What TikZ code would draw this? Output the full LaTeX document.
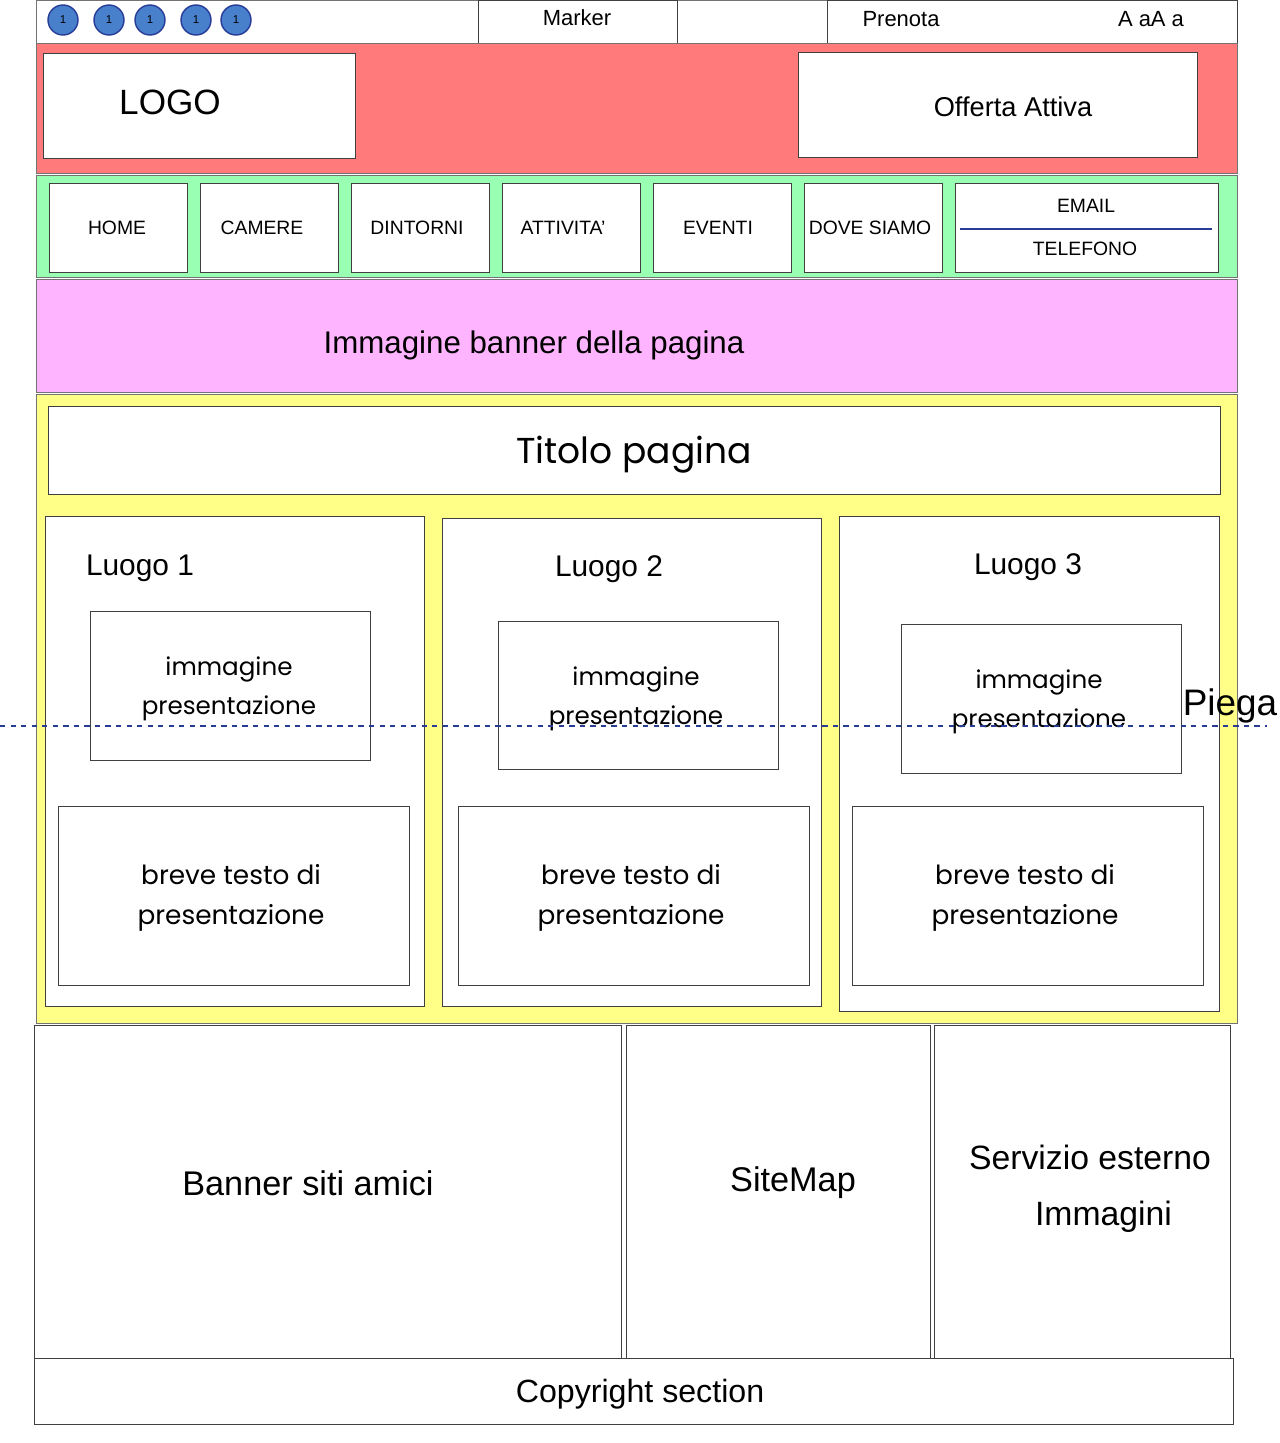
\documentclass[tikz,border=0pt]{standalone}
\usepackage{fontspec}
\setmainfont{Liberation Sans}
\newfontfamily\handfont{Poppins}
\usetikzlibrary{fit}

\definecolor{headred}{RGB}{255,122,122}
\definecolor{navgreen}{RGB}{153,255,178}
\definecolor{bannerpink}{RGB}{255,180,255}
\definecolor{bodyyellow}{RGB}{255,255,136}
\definecolor{dotblue}{RGB}{72,128,204}
\definecolor{foldblue}{RGB}{40,60,150}

\begin{document}
\begin{tikzpicture}[x=0.02cm, y=-0.02cm,
  box/.style = {draw=black!75, fill=white, inner sep=0pt, outer sep=0pt},
  band/.style = {draw=black!55, fill=#1, inner sep=0pt, outer sep=0pt},
  dot/.style = {circle, draw=foldblue, fill=dotblue, thick, minimum size=0.6cm, inner sep=0pt, font=\fontsize{6.5}{7}\selectfont},
  navtxt/.style = {font=\fontsize{11}{13}\selectfont},
  hand/.style = {font=\handfont\fontsize{#1}{22.5}\selectfont, align=center},
  hand/.default = 14]

\useasboundingbox (0,0) rectangle (1279,1443);

% Top bar
\node[band=white, fit={(36,0) (1237,43)}] (topbar) {};
\node[dot] (c1) at (63,20) {1};
\node[dot] (c2) at (109,20) {1};
\node[dot] (c3) at (150,20) {1};
\node[dot] (c4) at (196,20) {1};
\node[dot] (c5) at (236,20) {1};
\node[box, fit={(478,0) (677,43)}] (marker) {};
\node[font=\fontsize{12.5}{14}\selectfont] (markertxt) at (577,18) {Marker};
\node[box, fit={(827,0) (1237,43)}] (prenota) {};
\node[font=\fontsize{12.5}{14}\selectfont] (prenotatxt) at (901,19) {Prenota};
\node[font=\fontsize{12.5}{14}\selectfont] (sizetxt) at (1151,19) {A aA a};

% Header
\node[band=headred, fit={(36,43) (1237,173)}] (header) {};
\node[box, fit={(43,53) (355,158)}] (logo) {};
\node[font=\fontsize{20}{22}\selectfont] (logotxt) at (170,102) {LOGO};
\node[box, fit={(798,52) (1197,157)}] (offerta) {};
\node[font=\fontsize{15.5}{18}\selectfont] (offertatxt) at (1013,107) {Offerta Attiva};

% Menu
\node[band=navgreen, fit={(36,175) (1237,277)}] (menu) {};
\foreach \name/\lbl/\tx [count=\i from 0] in {home/HOME/117, camere/CAMERE/262, dintorni/DINTORNI/417, attivita/ATTIVITA'/563, eventi/EVENTI/718, dove/DOVE SIAMO/870} {
  \node[box, fit={({49+151*\i},183) ({187+151*\i},272)}] (\name) {};
  \node[navtxt] (\name txt) at (\tx,228) {\lbl};
}
\node[box, fit={(955,183) (1218,272)}] (contatti) {};
\node[navtxt] (emailtxt) at (1086,206) {EMAIL};
\node[navtxt] (telefonotxt) at (1085,249) {TELEFONO};
\coordinate (sepl) at (960,229);
\coordinate (sepr) at (1212,229);
\draw[foldblue, thick] (sepl) -- (sepr);

% Banner
\node[band=bannerpink, fit={(36,279) (1237,392)}] (banner) {};
\node[font=\fontsize{17.8}{20}\selectfont] (bannertxt) at (534,345) {Immagine banner della pagina};

% Content
\node[band=bodyyellow, fit={(36,394) (1237,1023)}] (content) {};
\node[box, fit={(48,406) (1220,494)}] (titolo) {};
\node[hand=20.5] (titolotxt) at (634,455) {Titolo pagina};

\node[box, fit={(45,516) (424,1006)}] (luogo1) {};
\node[font=\fontsize{17}{19}\selectfont] (luogo1txt) at (140,568) {Luogo 1};
\node[box, fit={(90,611) (370,760)}] (img1) {};
\node[hand] (img1txt) at (229,689) {immagine\\presentazione};
\node[box, fit={(58,806) (409,985)}] (testo1) {};
\node[hand=15] (testo1txt) at (231,898) {breve testo di\\presentazione};

\node[box, fit={(442,518) (821,1006)}] (luogo2) {};
\node[font=\fontsize{17}{19}\selectfont] (luogo2txt) at (609,569) {Luogo 2};
\node[box, fit={(498,621) (778,769)}] (img2) {};
\node[hand] (img2txt) at (636,699) {immagine\\presentazione};
\node[box, fit={(458,806) (809,985)}] (testo2) {};
\node[hand=15] (testo2txt) at (631,898) {breve testo di\\presentazione};

\node[box, fit={(839,516) (1219,1011)}] (luogo3) {};
\node[font=\fontsize{17}{19}\selectfont] (luogo3txt) at (1028,567) {Luogo 3};
\node[box, fit={(901,624) (1181,773)}] (img3) {};
\node[hand] (img3txt) at (1039,702) {immagine\\presentazione};
\node[box, fit={(852,806) (1203,985)}] (testo3) {};
\node[hand=15] (testo3txt) at (1025,898) {breve testo di\\presentazione};

% Fold line
\coordinate (foldl) at (0,726);
\coordinate (foldr) at (1267,726);
\draw[foldblue, dashed, thick] (foldl) -- (foldr);
\node[font=\fontsize{21}{23}\selectfont] (piega) at (1230,706) {Piega};

% Footer
\node[box, fit={(34,1025) (621,1358)}] (amici) {};
\node[font=\fontsize{19.5}{22}\selectfont] (amicitxt) at (308,1183) {Banner siti amici};
\node[box, fit={(626,1025) (930,1358)}] (sitemap) {};
\node[font=\fontsize{19.5}{22}\selectfont] (sitemaptxt) at (793,1183) {SiteMap};
\node[box, fit={(934,1025) (1230,1358)}] (servizio) {};
\node[font=\fontsize{19.2}{22}\selectfont, align=center] (serviziotxt) at (1090,1189) {Servizio esterno\\[10pt]\hspace*{0.8em}Immagini};
\node[box, fit={(34,1358) (1233,1424)}] (copyright) {};
\node[font=\fontsize{18.3}{21}\selectfont] (copyrighttxt) at (640,1394) {Copyright section};

\end{tikzpicture}
\end{document}
